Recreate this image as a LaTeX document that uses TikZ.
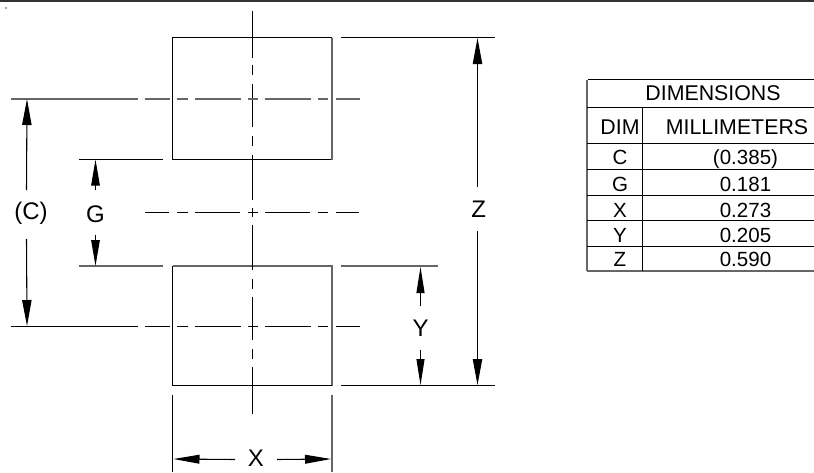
\documentclass[tikz,border=0pt]{standalone}
\usepackage{fontspec}
\setmainfont{Liberation Sans}
\usetikzlibrary{arrows.meta}
\tikzset{
  x=0.75pt,y=-0.75pt,
  ln/.style={line width=0.8pt,black},
  lngrey/.style={line width=0.8pt,black!60},
  dimarrow/.style={line width=0.8pt,black,-{Triangle[length=19.5pt,width=#1,black]}},
  dimarrow/.default=7pt,
  dimtext/.style={font=\fontsize{18pt}{20pt}\selectfont,inner sep=0pt,text=black},
  tabhead/.style={font=\fontsize{16pt}{18pt}\selectfont,inner sep=0pt,text=black,anchor=base},
  tabtext/.style={font=\fontsize{15.4pt}{17pt}\selectfont,inner sep=0pt,text=black,anchor=base}
}
\begin{document}
\begin{tikzpicture}
\useasboundingbox (0,0) rectangle (814,472);
% top rule and speck
\draw[line width=2pt,black!80] (0,1) -- (814,1);
\fill[black!70] (6,8) circle (0.6pt);
% pads
\draw[ln] (332,37.5) -- (172.5,37.5) -- (172.5,159.5) -- (332,159.5);
\draw[lngrey] (332,37.5) -- (332,159.5);
\draw[lngrey] (172.5,266) -- (332,266) -- (332,385.8);
\draw[ln] (172.5,266) -- (172.5,385.8) -- (332,385.8);
% vertical centre line
\foreach \a/\b in {11/58,65/75,84/127,136/146,155/200,208/217,225/270,279/289,297/340,349/359,367/414}
  \draw[ln] (252.5,\a) -- (252.5,\b);
% horizontal centre lines
\foreach \a/\b in {11/138,145/170,177/188,195/241,248/258,265/311,318/328,336/360}{
  \draw[lngrey] (\a,99) -- (\b,99);
  \draw[ln] (\a,326.5) -- (\b,326.5);
}
\foreach \a/\b in {145/169,177/188,195/240,248/258,265/310,318/328,336/359}
  \draw[ln] (\a,212.5) -- (\b,212.5);
% extension lines
\draw[ln] (79,159.5) -- (163,159.5);
\draw[lngrey] (79,266) -- (163,266);
\draw[ln] (341,37.5) -- (495,37.5);
\draw[ln] (341,385.8) -- (495,385.8);
\draw[ln] (429,385.8) -- (438,385.8);
\draw[lngrey] (341,266) -- (438,266);
\draw[ln] (172.5,395) -- (172.5,472);
\draw[lngrey] (332,395) -- (332,472);
% dimension labels
\node[dimtext] (lc) at (31,213.5) {(C)};
\node[dimtext] (lg) at (95.5,214.7) {G};
\node[dimtext] (lz) at (478.7,209) {Z};
\node[dimtext] (ly) at (420.5,327.8) {Y};
\node[dimtext] (lx) at (256,458.5) {X};
% arrow tips
\coordinate (ct) at (27,99); \coordinate (cb) at (27,326);
\coordinate (gt) at (95.5,159.5); \coordinate (gb) at (95.5,266);
\coordinate (zt) at (477.5,38); \coordinate (zb) at (477.5,385);
\coordinate (yt) at (420.5,267); \coordinate (yb) at (420.5,385);
\coordinate (xl) at (173.5,459); \coordinate (xr) at (331,459);
\draw[dimarrow] (26.5,190) -- (ct);
\draw[dimarrow] (26.5,239) -- (cb);
\draw[dimarrow=6.4pt] (95.5,190) -- (gt);
\draw[dimarrow=6.4pt] (95.5,235) -- (gb);
\draw[dimarrow] (477.5,187) -- (zt);
\draw[dimarrow] (477.5,231) -- (zb);
\draw[dimarrow=6pt] (420.5,306) -- (yt);
\draw[dimarrow=6pt] (420.5,350) -- (yb);
\draw[dimarrow=6.6pt] (235,459.5) -- (xl);
\draw[dimarrow=6.6pt] (277,459.5) -- (xr);
% table
\draw[ln] (814,79.5) -- (587.5,79.5);
\draw[lngrey] (587,79.5) -- (587,271);
\draw[lngrey] (587,271) -- (814,271);
\foreach \yy in {107.5,143.5,169.5,195.5,220.5,246.5}
  \draw[ln] (587,\yy) -- (814,\yy);
\draw[ln] (642.5,107) -- (642.5,271);
\node[tabhead] (th) at (713,100.7) {DIMENSIONS};
\node[tabhead] (tdim) at (620,134.2) {DIM};
\node[tabhead] (tmm) at (737,134.2) {MILLIMETERS};
\foreach \n/\d/\v/\yy in {a/C/(0.385)/164.5,b/G/0.181/191.5,c/X/0.273/217.3,d/Y/0.205/242,e/Z/0.590/266.5}{
  \node[tabtext] (d\n) at (620,\yy) {\d};
  \node[tabtext] (v\n) at (745.5,\yy) {\v};
}
\end{tikzpicture}
\end{document}
